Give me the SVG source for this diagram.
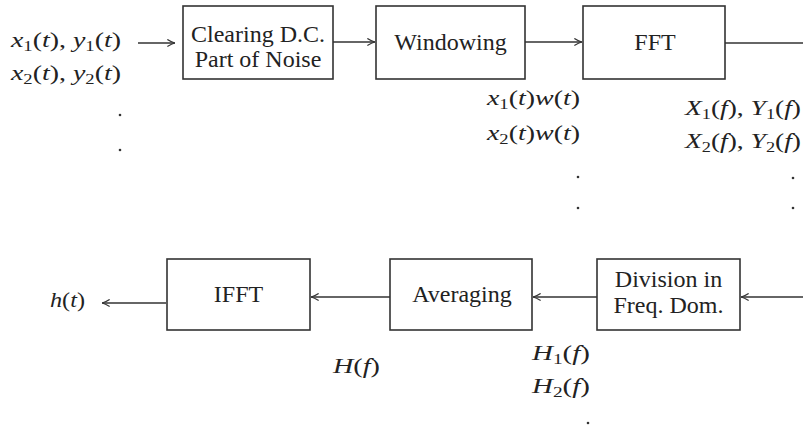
<svg xmlns="http://www.w3.org/2000/svg" width="803" height="427" viewBox="0 0 803 427">
<defs>
<style>
.box{fill:#fff;stroke:#333;stroke-width:1.6}
.lbl{font-family:"Liberation Serif","Times New Roman",serif;font-size:24px;fill:#222;text-anchor:middle}
.m{font-family:"Liberation Serif","Times New Roman",serif;font-size:21px;fill:#222}
.i{font-style:italic}
.s{font-size:14px}
.c{stroke:#333;stroke-width:1.4;fill:none}
.dot{fill:#333}
</style>
<marker id="ah" viewBox="0 0 10 10" refX="9.5" refY="5" markerWidth="9" markerHeight="9" markerUnits="userSpaceOnUse" orient="auto">
<path d="M1,1 Q6,4.2 9.5,5 Q6,5.8 1,9" fill="none" stroke="#333" stroke-width="1.3"/>
</marker>
</defs>
<rect width="803" height="427" fill="#fff"/>
<g id="connectors">
<line class="c" x1="138" y1="43" x2="175" y2="43" marker-end="url(#ah)"/>
<line class="c" x1="333" y1="42" x2="375" y2="42" marker-end="url(#ah)"/>
<line class="c" x1="525" y1="42" x2="582" y2="42" marker-end="url(#ah)"/>
<line class="c" x1="725" y1="43" x2="803" y2="43"/>
<line class="c" x1="803" y1="297" x2="741" y2="297" marker-end="url(#ah)"/>
<line class="c" x1="597" y1="297" x2="533" y2="297" marker-end="url(#ah)"/>
<line class="c" x1="390" y1="297" x2="311" y2="297" marker-end="url(#ah)"/>
<line class="c" x1="166" y1="303" x2="102" y2="303" marker-end="url(#ah)"/>
</g>
<g id="clearing">
<rect class="box" x="183" y="6" width="150" height="73"/>
<text class="lbl" x="258" y="42">Clearing D.C.</text>
<text class="lbl" x="258" y="67">Part of Noise</text>
</g>
<g id="windowing">
<rect class="box" x="376" y="6" width="149" height="73"/>
<text class="lbl" x="450.5" y="50">Windowing</text>
</g>
<g id="fft">
<rect class="box" x="583" y="6" width="142" height="73"/>
<text class="lbl" x="655" y="50">FFT</text>
</g>
<g id="division">
<rect class="box" x="597" y="259" width="143" height="71"/>
<text class="lbl" x="668.5" y="287">Division in</text>
<text class="lbl" x="668.5" y="313">Freq. Dom.</text>
</g>
<g id="averaging">
<rect class="box" x="390" y="259" width="142" height="71"/>
<text class="lbl" x="462" y="302">Averaging</text>
</g>
<g id="ifft">
<rect class="box" x="167" y="259" width="143" height="71"/>
<text class="lbl" x="238.5" y="302">IFFT</text>
</g>
<g id="labels">
<text class="m" x="11" y="47" textLength="110" lengthAdjust="spacingAndGlyphs"><tspan class="i">x</tspan><tspan class="s" dy="4">1</tspan><tspan dy="-4">(</tspan><tspan class="i">t</tspan>), <tspan class="i">y</tspan><tspan class="s" dy="4">1</tspan><tspan dy="-4">(</tspan><tspan class="i">t</tspan>)</text>
<text class="m" x="11" y="80" textLength="110" lengthAdjust="spacingAndGlyphs"><tspan class="i">x</tspan><tspan class="s" dy="4">2</tspan><tspan dy="-4">(</tspan><tspan class="i">t</tspan>), <tspan class="i">y</tspan><tspan class="s" dy="4">2</tspan><tspan dy="-4">(</tspan><tspan class="i">t</tspan>)</text>
<text class="m" x="487" y="105" textLength="93" lengthAdjust="spacingAndGlyphs"><tspan class="i">x</tspan><tspan class="s" dy="4">1</tspan><tspan dy="-4">(</tspan><tspan class="i">t</tspan>)<tspan class="i">w</tspan>(<tspan class="i">t</tspan>)</text>
<text class="m" x="487" y="140" textLength="93" lengthAdjust="spacingAndGlyphs"><tspan class="i">x</tspan><tspan class="s" dy="4">2</tspan><tspan dy="-4">(</tspan><tspan class="i">t</tspan>)<tspan class="i">w</tspan>(<tspan class="i">t</tspan>)</text>
<text class="m" x="685" y="115" textLength="116" lengthAdjust="spacingAndGlyphs"><tspan class="i">X</tspan><tspan class="s" dy="4">1</tspan><tspan dy="-4">(</tspan><tspan class="i">f</tspan>), <tspan class="i">Y</tspan><tspan class="s" dy="4">1</tspan><tspan dy="-4">(</tspan><tspan class="i">f</tspan>)</text>
<text class="m" x="685" y="148" textLength="116" lengthAdjust="spacingAndGlyphs"><tspan class="i">X</tspan><tspan class="s" dy="4">2</tspan><tspan dy="-4">(</tspan><tspan class="i">f</tspan>), <tspan class="i">Y</tspan><tspan class="s" dy="4">2</tspan><tspan dy="-4">(</tspan><tspan class="i">f</tspan>)</text>
<text class="m" x="333" y="373" textLength="47" lengthAdjust="spacingAndGlyphs"><tspan class="i">H</tspan>(<tspan class="i">f</tspan>)</text>
<text class="m" x="532" y="360" textLength="58" lengthAdjust="spacingAndGlyphs"><tspan class="i">H</tspan><tspan class="s" dy="4">1</tspan><tspan dy="-4">(</tspan><tspan class="i">f</tspan>)</text>
<text class="m" x="532" y="393" textLength="58" lengthAdjust="spacingAndGlyphs"><tspan class="i">H</tspan><tspan class="s" dy="4">2</tspan><tspan dy="-4">(</tspan><tspan class="i">f</tspan>)</text>
<text class="m" x="50" y="307" textLength="35" lengthAdjust="spacingAndGlyphs"><tspan class="i">h</tspan>(<tspan class="i">t</tspan>)</text>
<circle class="dot" cx="120" cy="115" r="1.3"/>
<circle class="dot" cx="120" cy="150" r="1.3"/>
<circle class="dot" cx="578" cy="177" r="1.3"/>
<circle class="dot" cx="578" cy="208" r="1.3"/>
<circle class="dot" cx="793" cy="178" r="1.3"/>
<circle class="dot" cx="793" cy="208" r="1.3"/>
<circle class="dot" cx="588" cy="423" r="1.3"/>
</g>
</svg>
